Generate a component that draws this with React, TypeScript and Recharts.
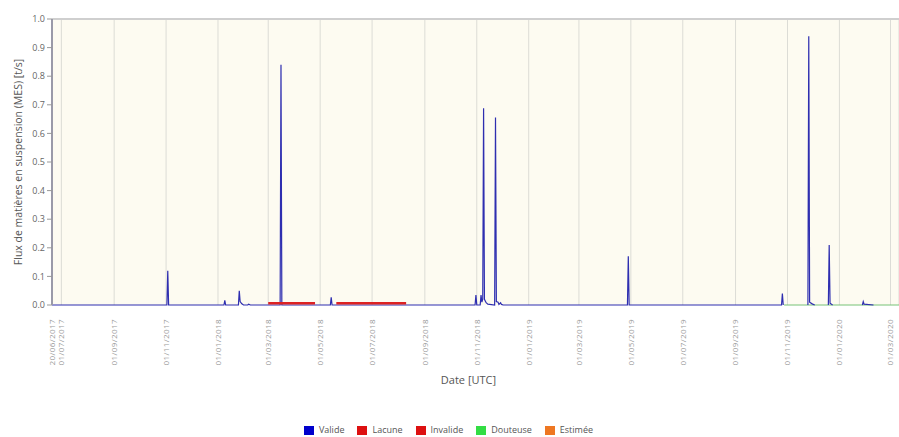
import { ComposedChart, Line, XAxis, YAxis, CartesianGrid, Legend, ReferenceLine } from 'recharts';

// x ticks (dd/mm/yyyy) — first one is the start of the record
const tickDates = [
  '20/06/2017', '01/07/2017', '01/09/2017', '01/11/2017', '01/01/2018', '01/03/2018',
  '01/05/2018', '01/07/2018', '01/09/2018', '01/11/2018', '01/01/2019', '01/03/2019',
  '01/05/2019', '01/07/2019', '01/09/2019', '01/11/2019', '01/01/2020', '01/03/2020',
];
const domainStart = '20/06/2017';
const domainEnd = '11/03/2020';
const yTicks = [0, 0.1, 0.2, 0.3, 0.4, 0.5, 0.6, 0.7, 0.8, 0.9, 1.0];

// Valide (t/s)
const valideDates = [
  '20/06/2017', '02/11/2017', '03/11/2017', '04/11/2017', '08/01/2018', '09/01/2018', '10/01/2018',
  '25/01/2018', '26/01/2018', '27/01/2018', '29/01/2018', '31/01/2018', '05/02/2018', '06/02/2018',
  '08/02/2018', '15/03/2018', '16/03/2018', '17/03/2018', '13/05/2018', '14/05/2018', '15/05/2018',
  '30/10/2018', '31/10/2018', '01/11/2018', '05/11/2018', '06/11/2018', '07/11/2018', '08/11/2018',
  '09/11/2018', '10/11/2018', '12/11/2018', '14/11/2018', '22/11/2018', '23/11/2018', '24/11/2018',
  '26/11/2018', '27/11/2018', '29/11/2018', '30/11/2018', '02/12/2018', '27/04/2019', '28/04/2019',
  '29/04/2019', '25/10/2019', '26/10/2019', '27/10/2019', '28/10/2019', '25/11/2019', '26/11/2019',
  '27/11/2019', '30/11/2019', '03/12/2019', '04/12/2019', '19/12/2019', '20/12/2019', '21/12/2019',
  '24/12/2019', '25/12/2019', '28/01/2020', '29/01/2020', '30/01/2020', '10/02/2020', '11/02/2020',
];
const valideValues = [
  0, 0, 0.12, 0, 0, 0.016, 0,
  0, 0.05, 0.012, 0.004, 0, 0, 0.003,
  0, 0, 0.84, 0, 0, 0.027, 0,
  0, 0.035, 0, 0, 0.035, 0.01, 0.02,
  0.688, 0.02, 0.008, 0.003, 0, 0.656, 0.012,
  0.01, 0.002, 0.008, 0.002, 0, 0, 0.17,
  0, 0, 0.04, 0, null, 0, 0.94,
  0.01, 0.004, 0, null, 0, 0.21, 0.006,
  0, null, 0, 0.012, 0.003, 0, null,
];

// Lacune (drawn just above the baseline)
const lacuneDates = ['01/03/2018', '25/04/2018', '26/04/2018', '20/05/2018', '10/08/2018'];
const lacuneValues = [0.006, 0.006, null, 0.006, 0.006];

// Douteuse
const douteuseDates = ['28/10/2019', '11/03/2020'];
const douteuseValues = [0, 0];

const legendNames = ['Valide', 'Lacune', 'Invalide', 'Douteuse', 'Estimée'];
const legendColors = ['#0000cc', '#dd1111', '#dd1111', '#33dd44', '#ee7722'];

const toTs = (s: string) => {
  const [d, m, y] = s.split('/').map(Number);
  return Date.UTC(y, m - 1, d);
};
const fmt = (t: number) => {
  const d = new Date(t);
  const p = (n: number) => String(n).padStart(2, '0');
  return `${p(d.getUTCDate())}/${p(d.getUTCMonth() + 1)}/${d.getUTCFullYear()}`;
};
const series = (dates: string[], values: (number | null)[]) =>
  dates.map((d, i) => ({ t: toTs(d), v: values[i] }));

const valideData = series(valideDates, valideValues);
const lacuneData = series(lacuneDates, lacuneValues);
const douteuseData = series(douteuseDates, douteuseValues);
const xTicks = tickDates.map(toTs);

const font = '"Open Sans", sans-serif';

function DateTick({ x, y, payload }: any) {
  return (
    <text
      transform={`translate(${x},${y + 6}) rotate(-90)`}
      textAnchor="end"
      dy="0.35em"
      fontSize={8}
      fill="#999"
      fontFamily={font}
      letterSpacing={0.4}
    >
      {fmt(payload.value)}
    </text>
  );
}

function YTitle({ viewBox }: any) {
  const cy = viewBox.y + viewBox.height / 2;
  return (
    <text
      transform={`translate(18,${cy}) rotate(-90)`}
      textAnchor="middle"
      dy="0.35em"
      fontSize={10.5}
      fill="#555"
      fontFamily={font}
    >
      Flux de matières en suspension (MES) [t/s]
    </text>
  );
}

function LegendBox() {
  return (
    <div style={{ display: 'flex', justifyContent: 'center', gap: 13, fontFamily: font, fontSize: 9, lineHeight: '12px', color: '#555', paddingRight: 2 }}>
      {legendNames.map((n, i) => (
        <div key={n} style={{ display: 'flex', alignItems: 'center' }}>
          <span style={{ display: 'inline-block', width: 10, height: 9, background: legendColors[i], marginRight: 5 }} />
          {n}
        </div>
      ))}
    </div>
  );
}

export default function App() {
  return (
    <div style={{ position: 'absolute', left: 0, top: 0, width: 899, height: 437, background: '#fff', overflow: 'hidden' }}>
      <ComposedChart width={899} height={437} margin={{ top: 19, right: 0, left: 0, bottom: 0 }}>
        <CartesianGrid horizontal={false} stroke="#dcdcd6" fill="#fdfbf1" />
        <XAxis
          dataKey="t"
          type="number"
          domain={[toTs(domainStart), toTs(domainEnd)]}
          ticks={xTicks}
          tick={<DateTick />}
          interval={0}
          axisLine={false}
          tickLine={false}
          height={116}
          allowDataOverflow
          label={{ value: 'Date [UTC]', position: 'insideBottom', offset: 37, dx: -7, fill: '#555', fontSize: 11, fontFamily: font }}
        />
        <YAxis
          domain={[0, 1]}
          ticks={yTicks}
          tickFormatter={(v: number) => v.toFixed(1)}
          width={52}
          tick={{ fontSize: 9, fill: '#666', fontFamily: font }}
          tickSize={5}
          tickLine={{ stroke: '#999' }}
          axisLine={{ stroke: '#9a9aa8', strokeWidth: 2 }}
          label={<YTitle />}
        />
        <ReferenceLine y={1} stroke="#cfcfcf" strokeWidth={2} />
        <Line data={douteuseData} dataKey="v" name="Douteuse" stroke="#77c277" strokeWidth={1} dot={false} isAnimationActive={false} />
        <Line data={valideData} dataKey="v" name="Valide" stroke="#2e2eb0" strokeWidth={1.2} dot={false} isAnimationActive={false} />
        <Line data={lacuneData} dataKey="v" name="Lacune" stroke="#dd2222" strokeWidth={2.6} dot={false} isAnimationActive={false} />
        <Legend verticalAlign="bottom" height={16} content={<LegendBox />} wrapperStyle={{ bottom: -3 }} />
      </ComposedChart>
    </div>
  );
}
